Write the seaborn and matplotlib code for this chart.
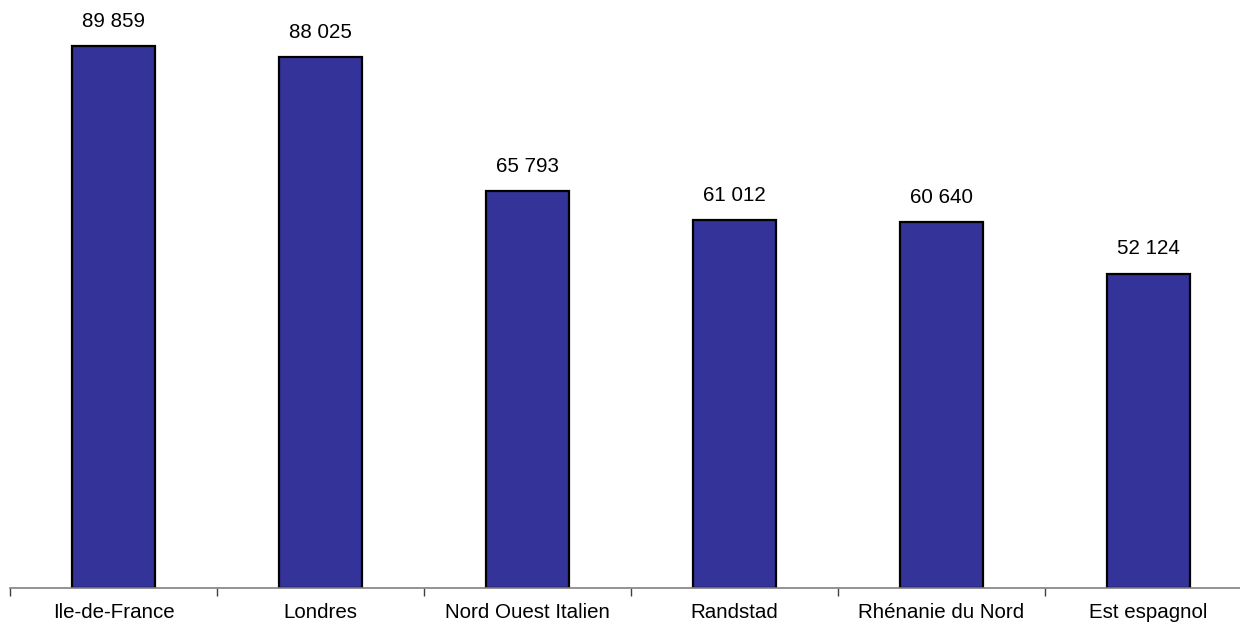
import matplotlib
matplotlib.use("Agg")
import matplotlib.pyplot as plt
import seaborn as sns
import pandas as pd

regions = ["Ile-de-France", "Londres", "Nord Ouest Italien", "Randstad",
           "Rhénanie du Nord", "Est espagnol"]
values = [89859, 88025, 65793, 61012, 60640, 52124]
value_labels = ["89 859", "88 025", "65 793", "61 012", "60 640", "52 124"]

sns.set_theme(style="white")
plt.rcParams["font.family"] = ["Liberation Sans", "DejaVu Sans"]

df = pd.DataFrame({"region": regions, "value": values})

W, H = 1240, 629
fig = plt.figure(figsize=(W / 100, H / 100), dpi=100)
# axes spans from x=10 to x=1252 px, baseline at y=588 px
ax = fig.add_axes([10 / W, 41 / H, 1242 / W, 603 / H])

sns.barplot(data=df, x="region", y="value", ax=ax, color="#333399",
            saturation=1, width=0.4, edgecolor="black", linewidth=1.6)

ax.set_ylim(0, 100000)
ax.set_xlim(-0.5, len(regions) - 0.5)

for i, (v, lab) in enumerate(zip(values, value_labels)):
    ax.annotate(lab, xy=(i, v), xytext=(0, 25), textcoords="offset pixels",
                ha="center", va="center", fontsize=14.8, color="black")

for s in ["top", "right", "left"]:
    ax.spines[s].set_visible(False)
ax.spines["bottom"].set_color("#808080")
ax.spines["bottom"].set_linewidth(1.2)

ax.set_yticks([])
ax.set_xlabel("")
ax.set_ylabel("")

# category labels centred under bars, tick marks on category boundaries
ax.set_xticks(range(len(regions)))
ax.set_xticklabels(regions, fontsize=14.8, color="black")
ax.tick_params(axis="x", which="major", length=0, pad=11)
ax.set_xticks([i - 0.5 for i in range(len(regions) + 1)], minor=True)
ax.tick_params(axis="x", which="minor", length=6, width=1, color="#404040",
               direction="out", bottom=True)

fig.savefig("out.png", dpi=100)
